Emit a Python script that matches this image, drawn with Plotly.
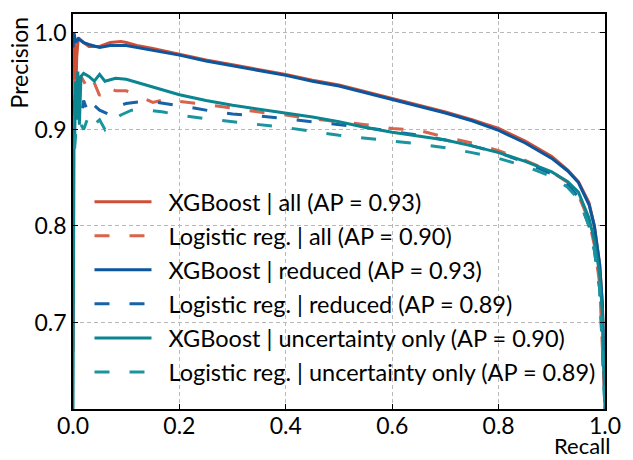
import plotly.graph_objects as go

# ---- data ----
xgb_all_r = [0, 0.001, 0.003, 0.005, 0.007, 0.01, 0.02, 0.03, 0.05, 0.07, 0.09, 0.1, 0.12, 0.15, 0.2, 0.25, 0.3, 0.35, 0.4, 0.45, 0.5, 0.55, 0.6, 0.65, 0.7, 0.75, 0.8, 0.85, 0.9, 0.93, 0.95, 0.97, 0.98, 0.99, 0.995, 1.0]
xgb_all_p = [0.67, 0.95, 0.99, 0.93, 0.975, 0.995, 0.99, 0.986, 0.986, 0.99, 0.991, 0.99, 0.987, 0.984, 0.978, 0.972, 0.967, 0.962, 0.957, 0.951, 0.946, 0.939, 0.932, 0.925, 0.918, 0.91, 0.901, 0.888, 0.872, 0.858, 0.846, 0.824, 0.80, 0.76, 0.72, 0.62]

lr_all_r = [0.002, 0.003, 0.006, 0.01, 0.015, 0.025, 0.035, 0.05, 0.06, 0.08, 0.1, 0.12, 0.15, 0.18, 0.2, 0.25, 0.3, 0.35, 0.4, 0.45, 0.5, 0.55, 0.6, 0.65, 0.7, 0.75, 0.8, 0.85, 0.9, 0.93, 0.95, 0.97, 0.98, 0.99, 1.0]
lr_all_p = [0.90, 0.96, 0.94, 0.93, 0.955, 0.945, 0.955, 0.935, 0.945, 0.94, 0.94, 0.935, 0.928, 0.932, 0.929, 0.926, 0.922, 0.918, 0.915, 0.911, 0.908, 0.905, 0.901, 0.899, 0.892, 0.886, 0.878, 0.868, 0.856, 0.845, 0.832, 0.805, 0.78, 0.74, 0.61]

xgb_red_r = [0, 0.002, 0.005, 0.01, 0.02, 0.03, 0.05, 0.07, 0.1, 0.12, 0.15, 0.2, 0.25, 0.3, 0.35, 0.4, 0.45, 0.5, 0.55, 0.6, 0.65, 0.7, 0.75, 0.8, 0.85, 0.9, 0.93, 0.95, 0.97, 0.98, 0.99, 0.995, 1.0]
xgb_red_p = [0.985, 1.0, 0.99, 0.994, 0.99, 0.988, 0.985, 0.987, 0.987, 0.985, 0.982, 0.977, 0.971, 0.966, 0.961, 0.956, 0.95, 0.945, 0.938, 0.931, 0.924, 0.917, 0.909, 0.899, 0.886, 0.870, 0.857, 0.845, 0.822, 0.80, 0.76, 0.72, 0.62]

lr_red_r = [0.003, 0.005, 0.01, 0.015, 0.02, 0.03, 0.04, 0.05, 0.07, 0.09, 0.1, 0.13, 0.16, 0.2, 0.23, 0.27, 0.3, 0.35, 0.4, 0.45, 0.5, 0.55, 0.6, 0.65, 0.7, 0.75, 0.8, 0.85, 0.9, 0.93, 0.95, 0.97, 0.98, 0.99, 1.0]
lr_red_p = [0.93, 0.905, 0.925, 0.91, 0.93, 0.915, 0.925, 0.92, 0.915, 0.925, 0.927, 0.929, 0.928, 0.925, 0.922, 0.918, 0.916, 0.914, 0.911, 0.908, 0.905, 0.902, 0.898, 0.894, 0.889, 0.883, 0.876, 0.866, 0.854, 0.843, 0.83, 0.80, 0.775, 0.735, 0.61]

xgb_unc_r = [0, 0.001, 0.002, 0.003, 0.004, 0.005, 0.007, 0.009, 0.012, 0.015, 0.02, 0.03, 0.04, 0.05, 0.06, 0.08, 0.1, 0.13, 0.16, 0.2, 0.25, 0.3, 0.35, 0.4, 0.45, 0.5, 0.55, 0.6, 0.65, 0.7, 0.75, 0.8, 0.85, 0.9, 0.93, 0.95, 0.97, 0.98, 0.99, 0.995, 1.0]
xgb_unc_p = [0.61, 0.87, 0.90, 0.885, 0.91, 0.95, 0.91, 0.96, 0.905, 0.955, 0.958, 0.955, 0.95, 0.957, 0.95, 0.953, 0.952, 0.947, 0.942, 0.936, 0.93, 0.925, 0.921, 0.917, 0.913, 0.908, 0.902, 0.897, 0.893, 0.889, 0.883, 0.876, 0.867, 0.856, 0.846, 0.835, 0.808, 0.785, 0.75, 0.71, 0.61]

lr_unc_r = [0.003, 0.005, 0.01, 0.02, 0.03, 0.04, 0.05, 0.06, 0.07, 0.09, 0.11, 0.14, 0.17, 0.2, 0.25, 0.3, 0.35, 0.4, 0.45, 0.5, 0.55, 0.6, 0.65, 0.7, 0.75, 0.8, 0.85, 0.9, 0.93, 0.95, 0.97, 0.98, 0.99, 1.0]
lr_unc_p = [0.88, 0.895, 0.91, 0.9, 0.915, 0.905, 0.91, 0.9, 0.908, 0.915, 0.92, 0.92, 0.918, 0.915, 0.911, 0.908, 0.905, 0.902, 0.898, 0.894, 0.891, 0.888, 0.885, 0.881, 0.876, 0.87, 0.862, 0.851, 0.84, 0.828, 0.80, 0.775, 0.735, 0.61]

labels = [
    "XGBoost | all (AP = 0.93)",
    "Logistic reg. | all (AP = 0.90)",
    "XGBoost | reduced (AP = 0.93)",
    "Logistic reg. | reduced (AP = 0.89)",
    "XGBoost | uncertainty only (AP = 0.90)",
    "Logistic reg. | uncertainty only (AP = 0.89)",
]
x_ticks = [0.0, 0.2, 0.4, 0.6, 0.8, 1.0]
y_ticks = [0.7, 0.8, 0.9, 1.0]

series = [
    (xgb_all_r, xgb_all_p, "#CF4F36", "solid"),
    (lr_all_r, lr_all_p, "#D9634C", "dash"),
    (xgb_red_r, xgb_red_p, "#0B569D", "solid"),
    (lr_red_r, lr_red_p, "#1763A8", "dash"),
    (xgb_unc_r, xgb_unc_p, "#0B8590", "solid"),
    (lr_unc_r, lr_unc_p, "#1A959F", "dash"),
]

FONT = "Lato"
FS = 23
fig = go.Figure()
for i, ((r, p, c, d), name) in enumerate(zip(series, labels)):
    fig.add_trace(go.Scatter(
        x=r, y=p, mode="lines", name="\u00a0\u00a0" + name, legendgroup=f"g{i}",
        line=dict(color=c, width=3, dash=("15px,20px" if d == "dash" else "solid")),
    ))

axis_common = dict(
    showline=True, linecolor="black", linewidth=1.5, mirror="ticks",
    ticks="inside", ticklen=5, tickwidth=1.2, tickcolor="black",
    showgrid=True, gridcolor="#b8b8b8", gridwidth=1, griddash="4px,3px",
    zeroline=False, tickfont=dict(family=FONT, size=FS, color="black"),
)
fig.update_xaxes(range=[0, 1], tickvals=x_ticks, tickformat=".1f",
                 ticklabelstandoff=-4, **axis_common)
fig.update_yaxes(range=[0.6104, 1.0196], tickvals=y_ticks, tickformat=".1f", **axis_common)

fig.update_layout(
    width=633, height=460,
    margin=dict(l=73, r=19, t=12, b=51),
    plot_bgcolor="white", paper_bgcolor="white",
    font=dict(family=FONT, color="black"),
    legend=dict(
        x=0.031, y=0.580, xanchor="left", yanchor="top",
        bgcolor="rgba(0,0,0,0)", borderwidth=0,
        font=dict(family=FONT, size=23.5, color="black"),
        itemwidth=57, tracegroupgap=0.5,
    ),
    showlegend=True,
    annotations=[
        dict(text="Precision", x=-0.1007, y=1, xref="paper", yref="paper",
             xanchor="center", yanchor="top", textangle=-90, showarrow=False,
             font=dict(family=FONT, size=FS, color="black")),
        dict(text="Recall", x=1.0148, y=-0.0932, xref="paper", yref="paper",
             xanchor="right", yanchor="middle", showarrow=False,
             font=dict(family=FONT, size=22, color="black")),
    ],
)

fig.write_html("out.html")
